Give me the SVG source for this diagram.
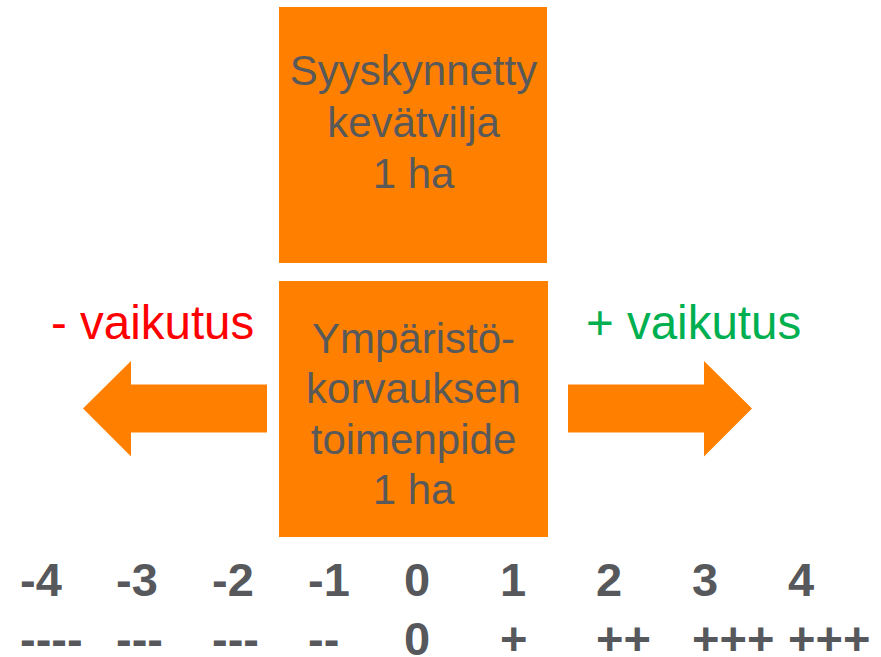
<svg xmlns="http://www.w3.org/2000/svg" width="881" height="657" viewBox="0 0 881 657">
<style>
.box{fill:#FF8000}
.bt{font-family:"Liberation Sans",Arial,sans-serif;font-size:42px;fill:#595959;text-anchor:middle}
.lbl{font-family:"Liberation Sans",Arial,sans-serif;font-size:47.5px}
.num{font-family:"Liberation Sans",Arial,sans-serif;font-size:47px;font-weight:bold;fill:#56585B}
.arr{fill:#FF8000}
</style>
<rect width="881" height="657" fill="#FFFFFF"/>
<g id="node-top">
<rect class="box" x="279" y="7" width="268" height="256"/>
<text class="bt" x="413.5" y="85">Syyskynnetty</text>
<text class="bt" x="413.5" y="136.5">kevätvilja</text>
<text class="bt" x="413.5" y="188">1 ha</text>
</g>
<g id="node-bottom">
<rect class="box" x="279" y="281" width="269" height="256"/>
<text class="bt" x="413.5" y="352.5">Ympäristö-</text>
<text class="bt" x="413.5" y="403">korvauksen</text>
<text class="bt" x="413.5" y="453.5">toimenpide</text>
<text class="bt" x="413.5" y="504">1 ha</text>
</g>
<g id="connectors">
<polygon class="arr" points="267,384.5 131,384.5 131,361 83,408.5 131,456.5 131,432.5 267,432.5"/>
<polygon class="arr" points="568,384.5 704,384.5 704,361 752,408.5 704,456.5 704,432.5 568,432.5"/>
</g>
<g id="label-neg">
<text class="lbl" x="51" y="338.5" fill="#FF0000">- vaikutus</text>
</g>
<g id="label-pos">
<text class="lbl" x="586" y="338.5" fill="#00B050">+ vaikutus</text>
</g>
<g id="scale">
<text class="num" x="20" y="596">-4</text>
<text class="num" x="116" y="596">-3</text>
<text class="num" x="212" y="596">-2</text>
<text class="num" x="308" y="596">-1</text>
<text class="num" x="404" y="596">0</text>
<text class="num" x="500" y="596">1</text>
<text class="num" x="596" y="596">2</text>
<text class="num" x="692" y="596">3</text>
<text class="num" x="788" y="596">4</text>
<text class="num" x="20" y="655">----</text>
<text class="num" x="116" y="655">---</text>
<text class="num" x="212" y="655">---</text>
<text class="num" x="308" y="655">--</text>
<text class="num" x="404" y="655">0</text>
<text class="num" x="500" y="655">+</text>
<text class="num" x="596" y="655">++</text>
<text class="num" x="692" y="655">+++</text>
<text class="num" x="788" y="655">+++</text>
</g>
</svg>
